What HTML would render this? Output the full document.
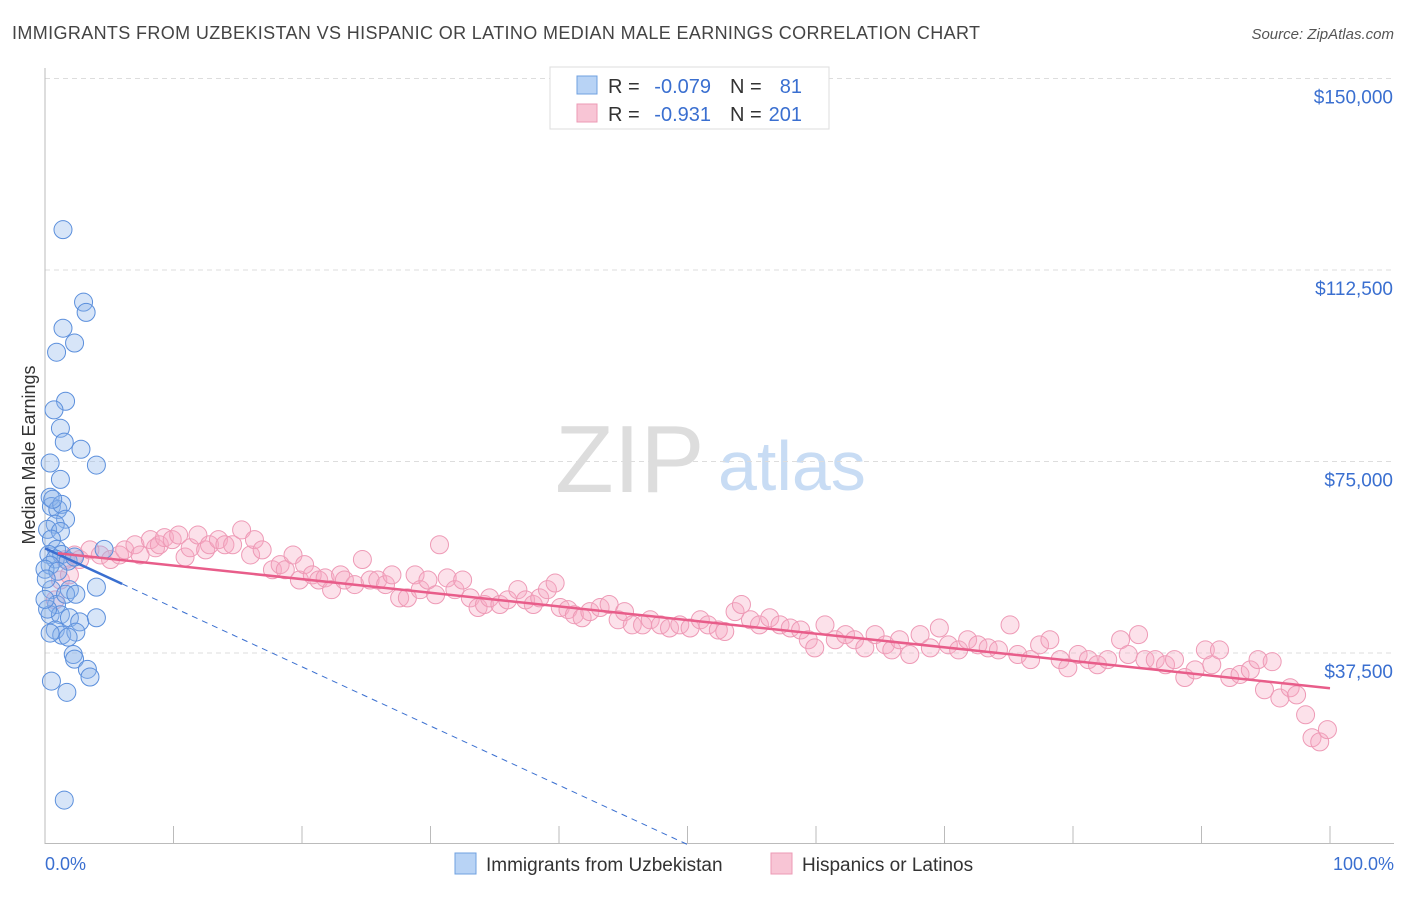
<!DOCTYPE html>
<html><head><meta charset="utf-8"><style>
body{margin:0;background:#fff;font-family:"Liberation Sans",sans-serif;}
svg text{font-family:"Liberation Sans",sans-serif;}
</style></head><body>
<svg id="c" width="1406" height="892">
<text x="12" y="39" font-size="18" fill="#444" textLength="968">IMMIGRANTS FROM UZBEKISTAN VS HISPANIC OR LATINO MEDIAN MALE EARNINGS CORRELATION CHART</text>
<text x="1394" y="39" font-size="15" fill="#555" font-style="italic" text-anchor="end">Source: ZipAtlas.com</text>
<text x="35" y="455" font-size="18" fill="#333" transform="rotate(-90 35 455)" text-anchor="middle">Median Male Earnings</text>
<g><text x="555" y="492" font-size="96" fill="#ddd" font-family="Liberation Serif">ZIP</text><text x="718" y="490" font-size="70" fill="#c8dcf4">atlas</text></g>
<g id="grid"></g><g id="pts"></g><g id="lines"></g>
<g>
<rect x="550" y="67" width="279" height="62" fill="#fff" stroke="#ddd"/>
<rect x="577" y="76" width="20" height="18" fill="#b8d3f5" stroke="#6fa0e0"/>
<rect x="577" y="104" width="20" height="18" fill="#f8c5d5" stroke="#ec9ab5"/>
<text x="608" y="93" font-size="20" fill="#333">R =</text>
<text x="711" y="93" font-size="20" fill="#3a6fd0" text-anchor="end">-0.079</text>
<text x="730" y="93" font-size="20" fill="#333">N =</text>
<text x="802" y="93" font-size="20" fill="#3a6fd0" text-anchor="end">81</text>
<text x="608" y="121" font-size="20" fill="#333">R =</text>
<text x="711" y="121" font-size="20" fill="#3a6fd0" text-anchor="end">-0.931</text>
<text x="730" y="121" font-size="20" fill="#333">N =</text>
<text x="802" y="121" font-size="20" fill="#3a6fd0" text-anchor="end">201</text>
</g>
<g>
<rect x="455" y="853" width="21" height="21" fill="#b8d3f5" stroke="#6fa0e0"/>
<text x="486" y="871" font-size="19" fill="#333">Immigrants from Uzbekistan</text>
<rect x="771" y="853" width="21" height="21" fill="#f8c5d5" stroke="#ec9ab5"/>
<text x="802" y="871" font-size="19" fill="#333">Hispanics or Latinos</text>
</g>
<text x="45" y="870" font-size="18" fill="#3a6fd0">0.0%</text>
<text x="1394" y="870" font-size="18" fill="#3a6fd0" text-anchor="end">100.0%</text>
</svg>
<script>
const yTicks=[37500,75000,112500,150000];
const yTickLabels=["$37,500","$75,000","$112,500","$150,000"];
const blueX=[1.4,3.0,3.2,1.4,2.3,0.9,1.6,0.7,1.2,1.5,2.8,4.0,0.4,0.4,0.5,1.0,1.3,1.6,0.8,0.2,1.2,0.5,0.9,0.3,1.3,0.8,0.4,1.8,0,1.0,4.6,2.3,4.0,1.9,0.5,0.9,1.6,0.4,1.2,1.9,2.7,4.0,0.8,1.3,0.4,2.4,1.8,2.2,2.3,3.3,3.5,0.5,1.7,1.5,0.6,1.2,0.1,2.4,0.2,0];
const blueY=[120400,106200,104200,101100,98200,96400,86800,85100,81500,78800,77400,74300,74700,68000,66200,65600,66600,63700,62700,61700,61300,59800,57800,56800,56800,55900,54700,55500,53900,53500,57800,56300,50400,49900,49900,47000,49000,45000,45000,44400,43600,44400,42000,41000,41400,41600,40600,37200,36300,34300,32800,32000,29800,8700,67600,71500,52000,49000,46100,48000];
const pinkX=[0.8,1.2,1.6,1.9,2.3,2.7,3.5,4.3,5.1,5.8,6.2,7.0,7.4,8.2,8.6,8.9,9.3,9.9,10.4,10.9,11.3,11.9,12.5,12.8,13.5,14.0,14.6,15.3,16.0,16.3,16.9,17.7,18.3,18.7,19.3,19.8,20.2,20.8,21.3,21.8,22.3,23.0,23.3,24.1,24.7,25.3,25.9,26.5,27.0,27.6,28.2,28.8,29.2,29.8,30.4,30.7,31.3,31.9,32.5,33.1,33.7,34.2,34.6,35.4,36.0,36.8,37.4,38.0,38.5,39.1,39.7,40.1,40.7,41.2,41.8,42.4,43.2,43.9,44.6,45.1,45.7,46.5,47.1,47.9,48.6,49.4,50.2,51.0,51.6,52.4,52.9,53.7,54.2,54.9,55.6,56.4,57.2,58.0,58.8,59.4,59.9,60.7,61.5,62.3,63.0,63.8,64.6,65.4,65.9,66.5,67.3,68.1,68.9,69.6,70.3,71.1,71.8,72.6,73.4,74.2,75.1,75.7,76.7,77.4,78.2,79.0,79.6,80.4,81.2,81.9,82.7,83.7,84.3,85.1,85.6,86.4,87.2,87.9,88.7,89.5,90.3,90.8,91.4,92.2,93.0,93.8,94.4,94.9,95.5,96.1,96.9,97.4,98.1,98.6,99.2,99.8];
const pinkY=[47900,51800,55800,52800,56700,55800,57700,56700,55800,56700,57700,58700,56700,59700,58100,58700,60100,59700,60600,56300,58100,60600,57700,58700,59700,58700,58700,61600,56700,59700,57700,53800,54800,53800,56700,51800,54800,52800,51800,52200,49900,52800,51800,50900,55800,51800,51800,50900,52800,48300,48300,52800,49900,51800,48900,58700,52200,49900,51800,48300,46400,47000,48300,47000,47900,49900,47900,47000,48300,49900,51200,46400,46000,45000,44400,45600,46400,47000,44000,45600,43000,43000,44000,43000,42400,43000,42400,44000,43000,42000,41700,45600,47000,44000,43000,44400,43000,42400,42000,40100,38500,43000,40100,41100,40100,38500,41100,39100,38100,40100,37200,41100,38500,42400,39100,38100,40100,39100,38500,38100,43000,37200,36200,39100,40100,36200,34600,37200,36200,35200,36200,40100,37200,41100,36200,36200,35200,36200,32700,34200,38100,35200,38100,32700,33300,34200,36200,30300,35800,28700,30700,29300,25400,20900,20100,22500];
const X0=45,X1=1330,YB=844.5,PXPER=191.5/37500;
const xs=v=>X0+(X1-X0)*v/100;
const ys=v=>YB-v*PXPER;
const NS="http://www.w3.org/2000/svg";
function mk(t,a,p){const e=document.createElementNS(NS,t);for(const k in a)e.setAttribute(k,a[k]);p.appendChild(e);return e;}
const grid=document.getElementById('grid');
yTicks.forEach((t,i)=>{
  const l=mk('line',{x1:45,x2:1394,y1:ys(t),y2:ys(t),stroke:'#ddd','stroke-dasharray':'5,4'},grid);
  
  
  const tx=mk('text',{x:1393,y:ys(t)+25,'font-size':19,fill:'#3a6fd0','text-anchor':'end'},grid);
  tx.textContent=yTickLabels[i];
  
  
});
const ax=mk('line',{x1:45,x2:45,y1:68,y2:844,stroke:'#bbb'},grid);


const bx=mk('line',{x1:45,x2:1394,y1:843.5,y2:843.5,stroke:'#bbb'},grid);


for(let i=0;i<=10;i++){
  const t=mk('line',{x1:xs(i*10),x2:xs(i*10),y1:826,y2:843,stroke:'#bbb'},grid);
  
  
}
const pts=document.getElementById('pts');
pinkX.forEach((x,i)=>{
  const c=mk('circle',{cx:xs(x),cy:ys(pinkY[i]),r:9,fill:'rgba(246,170,195,0.35)',stroke:'#ee9ab6','stroke-width':1},pts);
  
  
});
blueX.forEach((x,i)=>{
  const c=mk('circle',{cx:xs(x),cy:ys(blueY[i]),r:9,fill:'rgba(140,180,235,0.35)',stroke:'#5b8fdc','stroke-width':1},pts);
  
  
});
const lines=document.getElementById('lines');
const bl=x=>58000-1160*x;
const b1=mk('line',{x1:xs(0),y1:ys(bl(0)),x2:xs(6),y2:ys(bl(6)),stroke:'#3a6fd0','stroke-width':2.5},lines);


const b2=mk('line',{x1:xs(6),y1:ys(bl(6)),x2:xs(50),y2:ys(bl(50)),stroke:'#3a6fd0','stroke-width':1,'stroke-dasharray':'6,5'},lines);


const pl=x=>57300-267*x;
const p1=mk('line',{x1:xs(1),y1:ys(pl(1)),x2:xs(100),y2:ys(pl(100)),stroke:'#e85d8a','stroke-width':2.5},lines);


</script>
</body></html>
